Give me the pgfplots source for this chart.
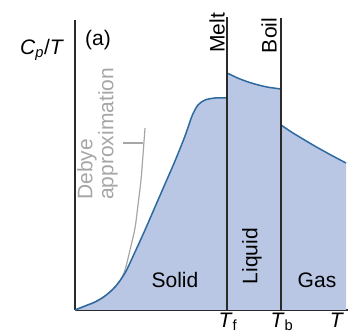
\documentclass[border=0pt]{standalone}
\usepackage{fontspec}
\setmainfont{Liberation Sans}
\usepackage{pgfplots}
\pgfplotsset{compat=1.18}
\definecolor{fillblue}{HTML}{B9C6E4}
\definecolor{lineblue}{HTML}{2C6AA0}
\definecolor{debye}{HTML}{A6A6A6}
\definecolor{axisc}{HTML}{2A2A2A}
\tikzset{lbl/.style={font=\fontsize{21}{25}\selectfont, inner sep=0pt}}
\begin{document}
\begin{tikzpicture}
\useasboundingbox (0,0) rectangle (348pt,334pt);
\begin{axis}[
  at={(75pt,24pt)}, anchor=south west,
  scale only axis, width=273pt, height=290pt,
  xmin=0, xmax=273, ymin=0, ymax=290,
  axis lines=left, axis line style={-, draw=axisc, line width=1.4pt},
  ticks=none, clip=false,
]
% fills
\addplot[fill=fillblue, draw=none] coordinates {
 (0,0)(10,4)(20,8)(30,14)(40,23)(50,37)(60,58)(70,80)(80,103)(90,126)(100,149)(110,174)(117,194)(123,205)(130,210)(140,212)(152,212)(152,0)};
\addplot[fill=fillblue, draw=none] coordinates {
 (152,0)(152,237)(165,231)(178,226.5)(192,223)(206,221)(206,0)};
\addplot[fill=fillblue, draw=none] coordinates {
 (206,0)(206,185)(218,177)(238,165)(255,155.5)(271,147)(271,0)};
% Debye
\addplot[debye, line width=1.2pt, smooth] coordinates {
 (0,0)(10,4)(20,8)(30,14)(40,23)(45,29)(50,40)(55,60)(60,82)(63,105)(66,130)(68,155)(70,182)};
\addplot[debye, line width=1.2pt] coordinates {(48,167)(68,167)};
% curves
\addplot[lineblue, line width=1.5pt, smooth] coordinates {
 (0,0)(10,4)(20,8)(30,14)(40,23)(50,37)(60,58)(70,80)(80,103)(90,126)(100,149)(110,174)(117,194)(123,205)(130,210)(140,212)(152,212)};
\addplot[lineblue, line width=1.5pt, smooth] coordinates {
 (152,237)(165,231)(178,226.5)(192,223)(206,221)};
\addplot[lineblue, line width=1.5pt, smooth] coordinates {
 (206,185)(218,177)(238,165)(255,155.5)(271,147)};
% transition lines
\addplot[axisc, line width=1.4pt] coordinates {(152,0)(152,293)};
\addplot[axisc, line width=1.4pt] coordinates {(206,0)(206,292)};
% texts
\node[lbl, rotate=90, anchor=west, text=debye] at (axis cs:12,110) {Debye};
\node[lbl, rotate=90, anchor=west, text=debye] at (axis cs:33,110) {approximation};
\node[lbl, rotate=90] at (axis cs:142,277) {Melt};
\node[lbl, rotate=90] at (axis cs:194,274.5) {Boil};
\node[lbl, rotate=90] at (axis cs:177,54) {Liquid};
\node[lbl] at (axis cs:100,30) {Solid};
\node[lbl] at (axis cs:242,30) {Gas};
\node[lbl] at (axis cs:-33,260) {\textit{C}\textsubscript{\textit{p}}/\textit{T}};
\node[lbl] at (axis cs:23,270) {(a)};
\node[lbl, anchor=north] at (axis cs:153,-2.5) {\textit{T}\textsubscript{f}};
\node[lbl, anchor=north] at (axis cs:207,-2.5) {\textit{T}\textsubscript{b}};
\node[lbl, anchor=north] at (axis cs:262,-2.5) {\textit{T}};
\end{axis}
\end{tikzpicture}
\end{document}
